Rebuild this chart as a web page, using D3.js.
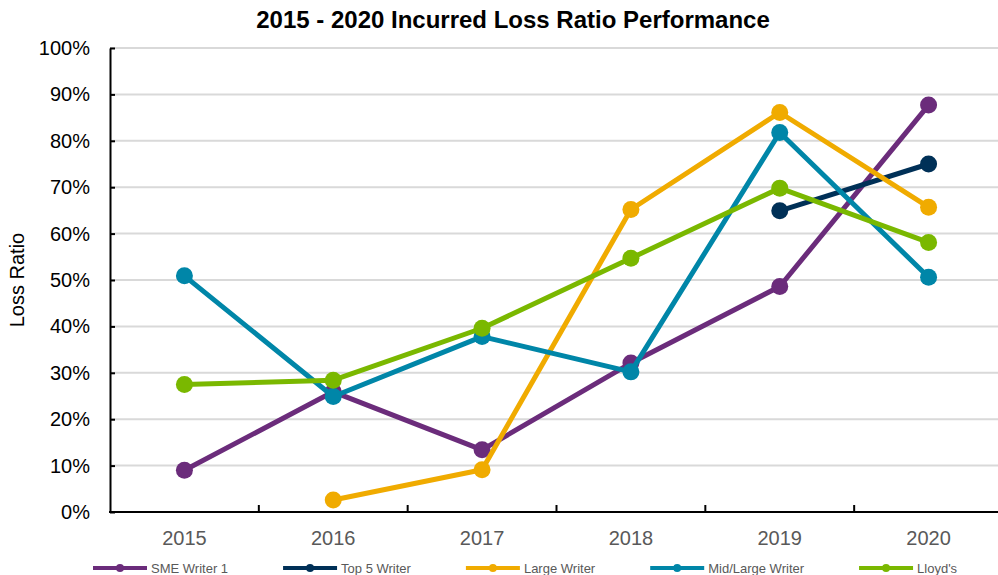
<!DOCTYPE html>
<html><head><meta charset="utf-8">
<script src="https://cdn.jsdelivr.net/npm/d3@7"></script>
<style>
html,body{margin:0;padding:0;background:#fff;}
svg{display:block;font-family:"Liberation Sans",Arial,sans-serif;}
</style></head>
<body>
<svg id="chart" width="998" height="575"></svg>
<script>
const title = "2015 - 2020 Incurred Loss Ratio Performance";
const yAxisTitle = "Loss Ratio";
const years = ["2015","2016","2017","2018","2019","2020"];
const yTicks = [0,0.1,0.2,0.3,0.4,0.5,0.6,0.7,0.8,0.9,1.0];
const seriesNames = ["SME Writer 1","Top 5 Writer","Large Writer","Mid/Large Writer","Lloyd's"];
const seriesColors = ["#6B2C7B","#003057","#F0AB00","#0086A8","#7AB800"];
const smeWriter1 = [0.090,0.259,0.134,0.321,0.486,0.877];
const top5Writer = [null,null,null,null,0.649,0.750];
const largeWriter = [null,0.026,0.091,0.652,0.861,0.657];
const midLargeWriter = [0.509,0.249,0.378,0.302,0.818,0.506];
const lloyds = [0.275,0.284,0.396,0.547,0.698,0.581];
const seriesValues = [smeWriter1, top5Writer, largeWriter, midLargeWriter, lloyds];

(function(){
const svg = d3.select("#chart");
const pLeft = 110, pRight = 1003, pTop = 48, pBottom = 512;

const x = d3.scalePoint().domain(years).range([pLeft, pRight]).padding(0.5);
const y = d3.scaleLinear().domain([0,1]).range([pBottom, pTop]);
const step = x.step();

// gridlines
svg.append("g").selectAll("line").data(yTicks.filter(d=>d>0)).join("line")
  .attr("x1", pLeft).attr("x2", 998)
  .attr("y1", d=>y(d)).attr("y2", d=>y(d))
  .attr("stroke", "#D9D9D9").attr("stroke-width", 2);

// title
svg.append("text").attr("x", 513).attr("y", 28).attr("text-anchor","middle")
  .attr("font-size", 24).attr("font-weight","bold").attr("fill","#000").text(title);

// y axis
const yAxis = d3.axisLeft(y).tickValues(yTicks).tickFormat(d3.format(".0%")).tickSizeInner(-5).tickSizeOuter(0).tickPadding(20);
const gy = svg.append("g").attr("transform", `translate(${pLeft},0)`).call(yAxis);
gy.select(".domain").attr("stroke","#000").attr("stroke-width",2);
gy.selectAll(".tick line").attr("stroke","#000").attr("stroke-width",2);
gy.selectAll(".tick text").attr("font-size",20).attr("fill","#000").attr("font-family","Liberation Sans, Arial, sans-serif");

// x axis
const gx = svg.append("g").attr("transform", `translate(0,${pBottom})`);
gx.append("line").attr("x1", pLeft-1).attr("x2", 998).attr("y1",0).attr("y2",0).attr("stroke","#000").attr("stroke-width",2);
const boundaries = years.slice(1).map(yv => x(yv) - step/2);
gx.selectAll("line.tk").data(boundaries).join("line").attr("class","tk")
  .attr("x1", d=>d).attr("x2", d=>d).attr("y1", 0).attr("y2", -7)
  .attr("stroke","#000").attr("stroke-width",2);
gx.selectAll("text").data(years).join("text")
  .attr("x", d=>x(d)).attr("y", 33).attr("text-anchor","middle")
  .attr("font-size",20).attr("fill","#595959").text(d=>d);

// y axis title
svg.append("text").attr("transform", `translate(24,${(pTop+pBottom)/2}) rotate(-90)`)
  .attr("text-anchor","middle").attr("font-size",20).attr("fill","#000").text(yAxisTitle);

// series
const line = d3.line().defined(d=>d.v!=null).x(d=>x(d.yr)).y(d=>y(d.v));
seriesValues.forEach((vals, i) => {
  const pts = vals.map((v,j)=>({yr:years[j], v}));
  const g = svg.append("g");
  g.append("path").datum(pts).attr("d", line).attr("fill","none")
    .attr("stroke", seriesColors[i]).attr("stroke-width",5).attr("stroke-linejoin","round");
  g.selectAll("circle").data(pts.filter(d=>d.v!=null)).join("circle")
    .attr("cx", d=>x(d.yr)).attr("cy", d=>y(d.v)).attr("r", 8.5).attr("fill", seriesColors[i]);
});

// legend
const lg = svg.append("g").attr("transform","translate(0,568)");
let cx = 93;
seriesNames.forEach((name,i)=>{
  const it = lg.append("g").attr("transform",`translate(${cx},0)`);
  it.append("line").attr("x1",0).attr("x2",54).attr("y1",0).attr("y2",0)
    .attr("stroke",seriesColors[i]).attr("stroke-width",4);
  it.append("circle").attr("cx",27).attr("cy",0).attr("r",4).attr("fill",seriesColors[i]);
  const t = it.append("text").attr("x",58).attr("y",5).attr("font-size",13).attr("fill","#595959").text(name);
  cx += 58 + t.node().getComputedTextLength() + 55;
});
})();
</script>
</body></html>
